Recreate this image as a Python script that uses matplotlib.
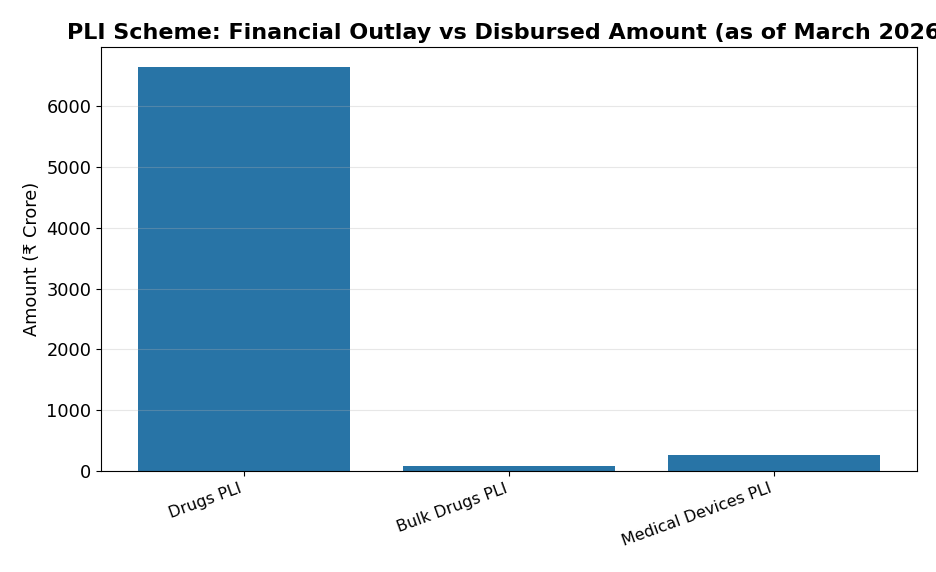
import matplotlib
matplotlib.use("Agg")
import matplotlib.pyplot as plt

categories = ["Drugs PLI", "Bulk Drugs PLI", "Medical Devices PLI"]
disbursed = [6640, 82, 264]

fig = plt.figure(figsize=(9.36, 5.72), dpi=100)
ax = fig.add_axes([101/936, 1-471/572, (917-101)/936, (471-47)/572])
ax.bar(categories, disbursed, color="#2874a6", width=0.8)
ax.set_ylabel("Amount (₹ Crore)", fontsize=12.8)
ax.set_title("PLI Scheme: Financial Outlay vs Disbursed Amount (as of March 2026)",
             fontsize=16, fontweight="bold")
ax.grid(axis="y", alpha=0.3)
ax.tick_params(axis="y", labelsize=12.8)
plt.setp(ax.get_xticklabels(), rotation=20, ha="right", fontsize=11.5)
fig.savefig("out.png", dpi=100)
